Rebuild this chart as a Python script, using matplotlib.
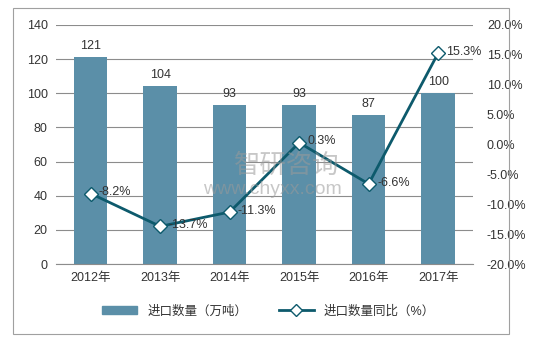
import matplotlib.pyplot as plt
import matplotlib.patches as mpatches
from matplotlib.lines import Line2D
from matplotlib.ticker import FuncFormatter
import numpy as np

plt.rcParams['font.family'] = ['Liberation Sans', 'Noto Sans CJK SC', 'DejaVu Sans']
plt.rcParams['axes.unicode_minus'] = False

years = ['2012年', '2013年', '2014年', '2015年', '2016年', '2017年']
volume = [121, 104, 93, 93, 87, 100]
yoy = [-8.2, -13.7, -11.3, 0.3, -6.6, 15.3]

bar_color = '#5b8fa8'
line_color = '#0d5a6c'
text_color = '#333333'

fig = plt.figure(figsize=(5.48, 3.42), dpi=100)
fig.patches.append(mpatches.Rectangle((13 / 548, 8 / 342), 496 / 548, 326 / 342,
                                      transform=fig.transFigure, fill=False,
                                      edgecolor='#a0a0a0', linewidth=0.8))
ax = fig.add_axes([0.102, 0.228, 0.761, 0.699])
x = np.arange(len(years))

ax.bar(x, volume, width=0.48, color=bar_color, zorder=2)
ax.set_ylim(0, 140)
ax.set_yticks(range(0, 141, 20))
ax.set_xlim(-0.5, len(years) - 0.5)
ax.set_xticks(x)
ax.set_xticklabels(years)
ax.grid(axis='y', color='#8c8c8c', linewidth=0.8, zorder=0)
for s in ['top', 'right', 'left']:
    ax.spines[s].set_visible(False)
ax.spines['bottom'].set_color('#8c8c8c')
ax.tick_params(length=0, labelsize=9, colors=text_color, pad=6)
for xi, v in zip(x, volume):
    ax.text(xi, v + 3, str(v), ha='center', va='bottom', fontsize=9, color=text_color)

ax2 = ax.twinx()
ax2.plot(x, yoy, color=line_color, linewidth=2, marker='D', markersize=7,
         markerfacecolor='white', markeredgecolor=line_color, markeredgewidth=1, zorder=3)
ax2.set_ylim(-20, 20)
ax2.set_yticks(np.arange(-20, 20.1, 5))
ax2.yaxis.set_major_formatter(FuncFormatter(lambda v, p: f'{v:.1f}%'))
for s in ax2.spines.values():
    s.set_visible(False)
ax2.tick_params(length=0, labelsize=9, colors=text_color, pad=10)
for xi, v in zip(x, yoy):
    ax2.annotate(f'{v:.1f}%', (xi, v), xytext=(6, 1), textcoords='offset points',
                 ha='left', va='center', fontsize=9, color=text_color)

# watermark
fig.text(287 / 548, 1 - 165 / 342, '智研咨询', fontsize=19, color='#9a9a9a', alpha=0.55,
         ha='center', va='center', family='Noto Sans CJK SC')
fig.text(272 / 548, 1 - 190 / 342, 'www.chyxx.com', fontsize=14, color='#9a9a9a', alpha=0.55,
         ha='center', va='center')

handles = [mpatches.Patch(color=bar_color, label='进口数量（万吨）'),
           Line2D([0], [0], color=line_color, linewidth=2, marker='D', markersize=6,
                  markerfacecolor='white', markeredgecolor=line_color,
                  label='进口数量同比（%）')]
fig.legend(handles=handles, loc='center', bbox_to_anchor=(0.49, 0.09), ncol=2,
           frameon=False, fontsize=9, handlelength=2.8, columnspacing=2.5,
           labelcolor=text_color)

fig.savefig('out.png', dpi=100)
